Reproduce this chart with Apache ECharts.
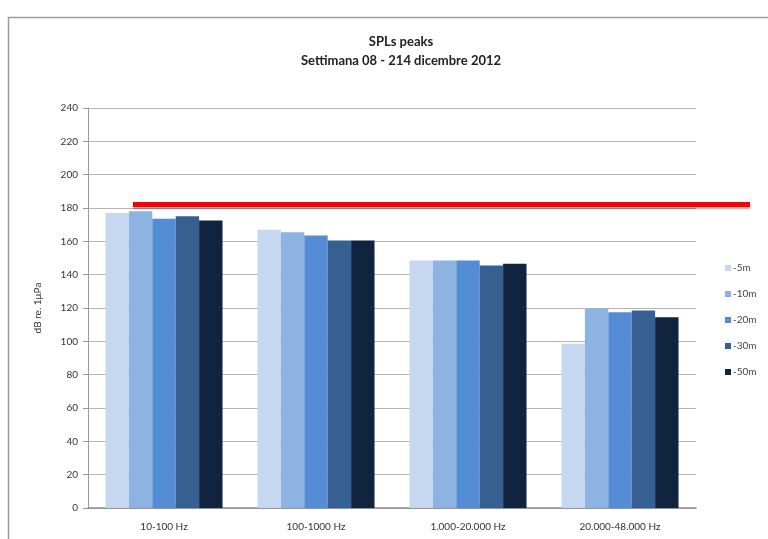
<!DOCTYPE html>
<html>
<head>
<meta charset="utf-8">
<script src="https://cdn.jsdelivr.net/npm/echarts@6/dist/echarts.min.js"></script>
<style>
  html, body { margin: 0; padding: 0; background: #fff; }
  #main { width: 768px; height: 539px; }
</style>
</head>
<body>
<div id="main"></div>
<script>
// categories (frequency bands)
var bands = ['10-100 Hz', '100-1000 Hz', '1.000-20.000 Hz', '20.000-48.000 Hz'];
// depths (series names)
var depths = ['-5m', '-10m', '-20m', '-30m', '-50m'];
var depthColors = ['#c6d8f0', '#8db3e2', '#548dd4', '#366092', '#10243f'];
// peak values per depth, one per band
var m5  = [177, 167, 148.5, 98.5];
var m10 = [178, 165.5, 148.5, 119.5];
var m20 = [173.5, 163.5, 148.5, 117.5];
var m30 = [175, 160.5, 145.5, 118.5];
var m50 = [172.5, 160.5, 146.5, 114.5];
var values = [m5, m10, m20, m30, m50];
// red threshold line
var threshold = 182.5;
var yTicks = [0, 240, 20];

var myChart = echarts.init(document.getElementById('main'));

var series = depths.map(function (name, i) {
    return {
        name: name,
        type: 'bar',
        data: values[i],
        barGap: 0,
        barCategoryGap: '23%',
        itemStyle: { color: depthColors[i] },
        animation: false
    };
});

// threshold annotation, drawn across the chart and past the plot area
series[0].markLine = {
    silent: true,
    symbol: 'none',
    label: { show: false },
    lineStyle: {
        color: '#ff0000',
        width: 5,
        type: 'solid',
        shadowColor: 'rgba(0,0,0,0.35)',
        shadowBlur: 2,
        shadowOffsetY: 2
    },
    data: [[{ x: 133, yAxis: threshold }, { x: 750, yAxis: threshold }]]
};

var option = {
    backgroundColor: '#ffffff',
    animation: false,
    textStyle: { fontFamily: 'Lato, "Open Sans", sans-serif' },
    graphic: [{
        type: 'rect',
        shape: { x: 8.5, y: 17.5, width: 800, height: 600 },
        style: { fill: 'none', stroke: '#9a9a9a', lineWidth: 1.5 },
        silent: true
    }],
    title: {
        text: 'SPLs peaks\nSettimana 08 - 214 dicembre 2012',
        left: 396,
        top: 27,
        textAlign: 'center',
        textStyle: {
            fontSize: 13,
            fontWeight: 'bold',
            color: '#222',
            lineHeight: 19,
            fontFamily: 'Lato, sans-serif'
        }
    },
    legend: {
        orient: 'vertical',
        left: 720,
        top: 258,
        itemWidth: 6,
        itemHeight: 6,
        itemGap: 16,
        icon: 'rect',
        textStyle: { fontSize: 10, color: '#444', padding: [0, 0, 0, -3] },
        data: depths
    },
    grid: { left: 88, right: 72, top: 108, bottom: 31 },
    xAxis: {
        type: 'category',
        data: bands,
        axisLine: { lineStyle: { color: '#8c8c8c', width: 1.5 } },
        axisTick: { show: false },
        axisLabel: { fontSize: 10, color: '#333', margin: 14 }
    },
    yAxis: {
        type: 'value',
        min: yTicks[0],
        max: yTicks[1],
        interval: yTicks[2],
        name: 'dB re. 1μPa',
        nameLocation: 'middle',
        nameGap: 45,
        nameTextStyle: { fontSize: 10, color: '#333' },
        axisLine: { show: true, lineStyle: { color: '#9a9a9a' } },
        axisTick: { show: true, length: 5, lineStyle: { color: '#9a9a9a' } },
        axisLabel: { fontSize: 10, color: '#333', margin: 10 },
        splitLine: { lineStyle: { color: '#b4b4b4', width: 1.2 } }
    },
    series: series
};

myChart.setOption(option);
</script>
</body>
</html>
